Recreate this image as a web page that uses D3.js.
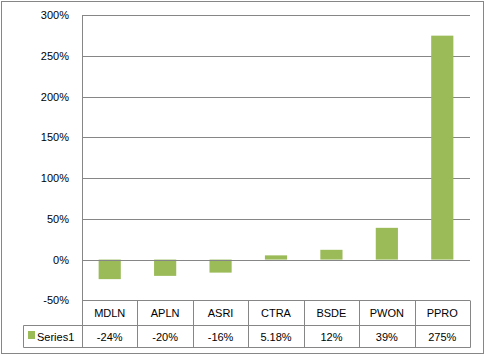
<!DOCTYPE html>
<html><head><meta charset="utf-8">
<script src="https://cdn.jsdelivr.net/npm/d3@7"></script>
<style>body{margin:0;background:#fff}svg{display:block}text{font-family:"Liberation Sans",Arial,sans-serif;font-size:11px;fill:#000}</style>
</head><body>
<script>
const categories = ["MDLN","APLN","ASRI","CTRA","BSDE","PWON","PPRO"];
const values = [-0.24,-0.20,-0.16,0.0518,0.12,0.39,2.75];
const valueLabels = ["-24%","-20%","-16%","5.18%","12%","39%","275%"];
const yTicks = [-0.5,0,0.5,1,1.5,2,2.5,3];
const seriesName = "Series1";

(function(){
const W=486,H=356;
const svg=d3.select("body").append("svg").attr("width",W).attr("height",H);
const gray="#868686", green="#9BBB59";
svg.append("rect").attr("x",1.5).attr("y",1.5).attr("width",482).attr("height",352).attr("fill","#fff").attr("stroke",gray);

const pL=82,pR=470,pT=15.3,pB=300.3;
const y=d3.scaleLinear().domain([-0.5,3]).range([pB,pT]);
const x=d3.scaleBand().domain(categories).range([pL,pR]).paddingInner(0.6).paddingOuter(0.3);
const xc=d3.scaleBand().domain(categories).range([pL,pR]);
const r=v=>Math.round(v)+0.5;

svg.append("g").selectAll("line").data(yTicks).join("line")
 .attr("x1",pL).attr("x2",pR).attr("y1",d=>r(y(d))).attr("y2",d=>r(y(d))).attr("stroke",gray);
const fmt=d=>Math.round(d*100)+"%";
svg.append("g").selectAll("text").data(yTicks).join("text")
 .attr("x",69).attr("y",d=>y(d)+4).attr("text-anchor","end").text(fmt);

svg.append("g").selectAll("rect").data(values).join("rect")
 .attr("x",(d,i)=>x(categories[i])).attr("width",x.bandwidth())
 .attr("y",d=>y(Math.max(0,d))).attr("height",d=>Math.abs(y(d)-y(0)))
 .attr("fill",green);

svg.append("line").attr("x1",pL).attr("x2",pR).attr("y1",r(y(0))).attr("y2",r(y(0))).attr("stroke",gray);

const row1=r(y(-0.5)), row2=325.5, row3=347.5, tleft=23.5;
svg.append("line").attr("x1",r(pL)).attr("x2",r(pL)).attr("y1",r(pT)).attr("y2",row3).attr("stroke",gray);
[row2,row3].forEach(v=>svg.append("line").attr("x1",tleft).attr("x2",r(pR)).attr("y1",v).attr("y2",v).attr("stroke",gray));
svg.append("line").attr("x1",tleft).attr("x2",tleft).attr("y1",row2).attr("y2",row3).attr("stroke",gray);
svg.append("g").selectAll("line").data(categories).join("line")
 .attr("x1",d=>r(xc(d)+xc.bandwidth())).attr("x2",d=>r(xc(d)+xc.bandwidth()))
 .attr("y1",row1).attr("y2",row3).attr("stroke",gray);
svg.append("g").selectAll("text").data(categories).join("text")
 .attr("x",d=>xc(d)+xc.bandwidth()/2).attr("y",(row1+row2)/2+4).attr("text-anchor","middle").text(d=>d);
svg.append("g").selectAll("text").data(valueLabels).join("text")
 .attr("x",(d,i)=>xc(categories[i])+xc.bandwidth()/2).attr("y",(row2+row3)/2+4).attr("text-anchor","middle").text(d=>d);
svg.append("rect").attr("x",28).attr("y",331).attr("width",7).attr("height",8).attr("fill",green);
svg.append("text").attr("x",37).attr("y",(row2+row3)/2+4).text(seriesName);
})();
</script>
</body></html>
